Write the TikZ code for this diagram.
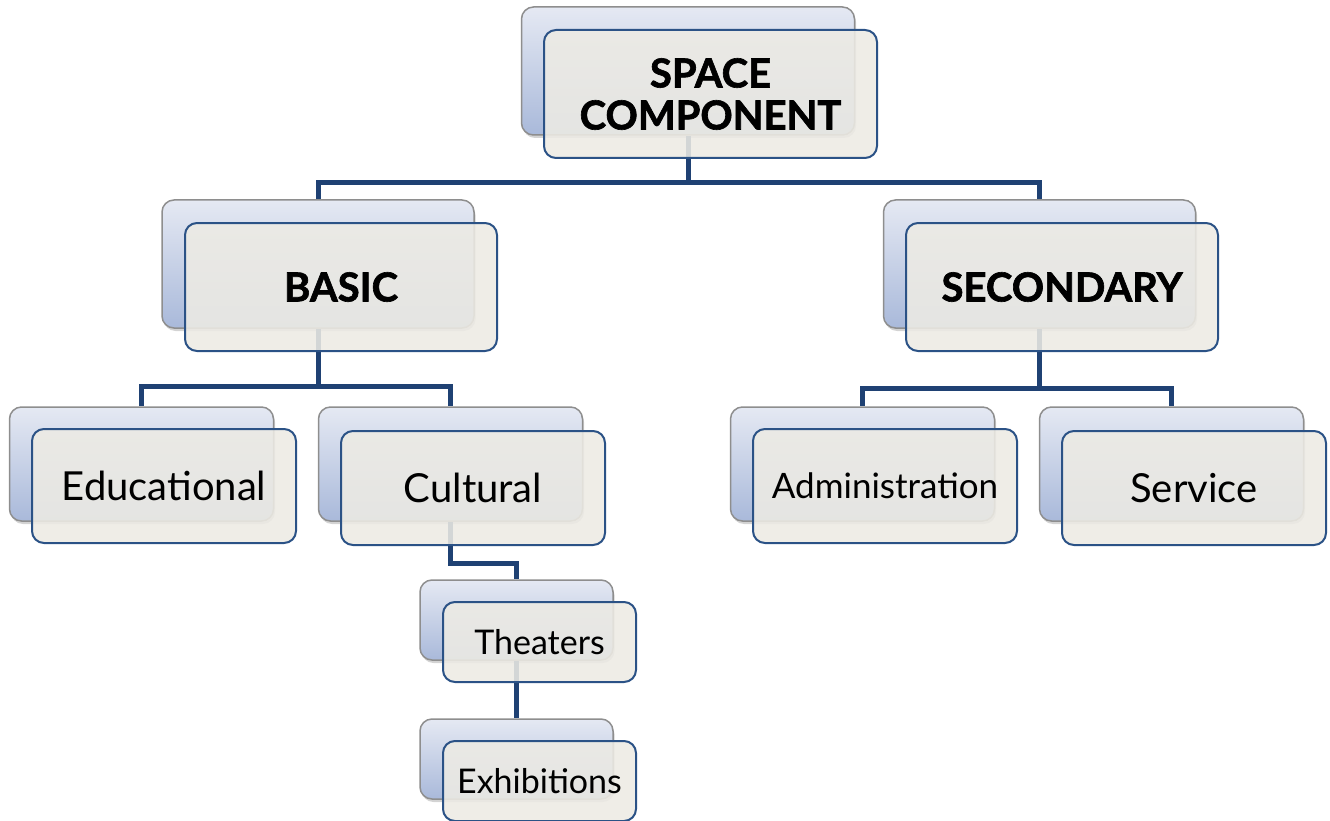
\documentclass[tikz,border=0pt]{standalone}
\usepackage{fontspec}
\setmainfont{Lato}
\newfontfamily\heavyfont[BoldFeatures={FakeBold=1.6}]{Lato}
\usetikzlibrary{shadows,calc}
\definecolor{lineblue}{HTML}{1F4173}
\definecolor{frontfill}{HTML}{EDEBE4}
\definecolor{frontdraw}{HTML}{2B5286}
\definecolor{backtop}{HTML}{E5E9F3}
\definecolor{backbot}{HTML}{A9B9DA}
\definecolor{backdraw}{HTML}{8E8E8E}
\begin{document}
\begin{tikzpicture}[x=1pt,y=-1pt,
  backbox/.style={draw=backdraw, line width=1.5pt, rounded corners=12pt,
    top color=backtop, bottom color=backbot, inner sep=0pt,
    drop shadow={shadow xshift=1.5pt, shadow yshift=-3pt, opacity=0.35}},
  frontbox/.style={draw=frontdraw, line width=2pt, rounded corners=12pt,
    fill=frontfill, fill opacity=0.88, text opacity=1, inner sep=0pt,
    align=center, text=black},
  bigbox/.style={minimum width=333pt, minimum height=128pt},
  midbox/.style={minimum width=312pt, minimum height=128pt},
  lowbox/.style={minimum width=264pt, minimum height=114pt},
  smallbox/.style={minimum width=193pt, minimum height=80pt},
  titlefont/.style={font=\fontsize{40}{42}\selectfont\heavyfont\bfseries},
  leaffont/.style={font=\fontsize{40}{44}\selectfont},
  subfont/.style={font=\fontsize{34}{38}\selectfont},
  link/.style={draw=lineblue, line width=5pt}
]
\useasboundingbox (0,0) rectangle (1330,821);

% back boxes
\node[backbox,bigbox]   (bsc)  at (688,71) {};
\node[backbox,midbox]   (bbas) at (318,264) {};
\node[backbox,midbox]   (bsec) at (1039.5,264) {};
\node[backbox,lowbox]   (bedu) at (141.5,464) {};
\node[backbox,lowbox]   (bcul) at (450.5,464) {};
\node[backbox,lowbox]   (badm) at (862.5,464) {};
\node[backbox,lowbox]   (bser) at (1171.5,464) {};
\node[backbox,smallbox] (bthe) at (516.5,620) {};
\node[backbox,smallbox] (bexh) at (516.5,759) {};

% connectors
\draw[link] (bsc.south) -- ++(0,47) coordinate (j1) -| (bbas.north);
\draw[link] (j1) -| (bsec.north);
\draw[link] (bbas.south) -- ++(0,58) coordinate (j2) -| (bedu.north);
\draw[link] (j2) -| (bcul.north);
\draw[link] (bsec.south) -- ++(0,60) coordinate (j3) -| (badm.north);
\draw[link] (j3) -| (bser.north);
\draw[link] (bcul.south) -- ++(0,42) -| (bthe.north);
\draw[link] (bthe.south) -- (bexh.north);

% front boxes
\node[frontbox,bigbox,titlefont]  (fsc)  at (710.5,94) {SPACE\\COMPONENT};
\node[frontbox,midbox,titlefont]  (fbas) at (341,287) {BASIC};
\node[frontbox,midbox,titlefont]  (fsec) at (1062,287) {SECONDARY};
\node[frontbox,lowbox,leaffont]   (fedu) at (164,486) {Educational};
\node[frontbox,lowbox,leaffont]   (fcul) at (473,488) {Cultural};
\node[frontbox,lowbox,font=\fontsize{35}{38}\selectfont] (fadm) at (885,486) {Administration};
\node[frontbox,lowbox,leaffont]   (fser) at (1194,488) {Service};
\node[frontbox,smallbox,subfont]  (fthe) at (539.5,642) {Theaters};
\node[frontbox,smallbox,subfont]  (fexh) at (539.5,781) {Exhibitions};
\end{tikzpicture}
\end{document}
